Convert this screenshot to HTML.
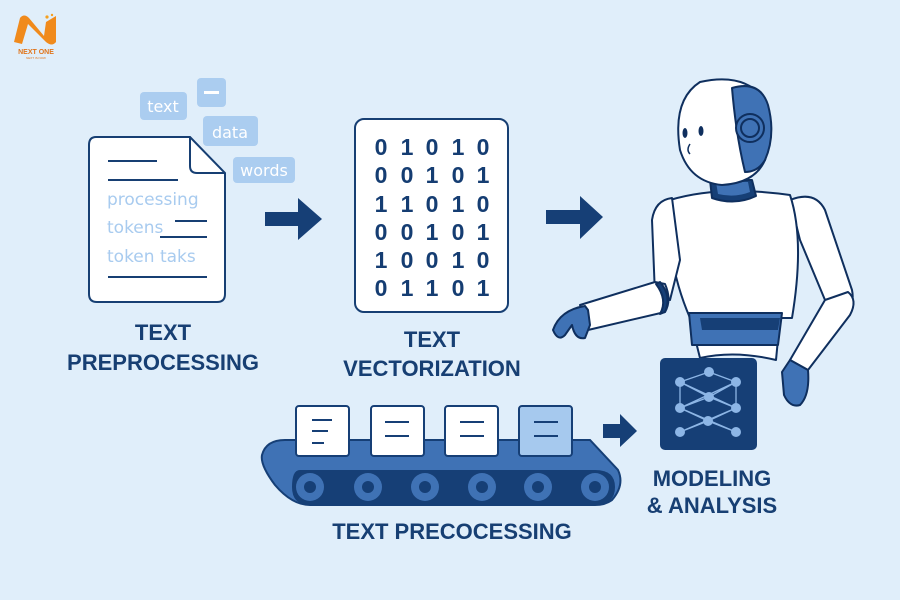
<!DOCTYPE html>
<html><head><meta charset="utf-8"><style>
html,body{margin:0;padding:0;width:900px;height:600px;overflow:hidden;background:#e0eefa}
svg{display:block}
.lbl{font-family:"Liberation Sans",sans-serif;font-weight:bold;fill:#173f73;text-anchor:middle}
.dg{font-family:"Liberation Sans",sans-serif;fill:#153d72;font-size:23px;font-weight:bold;text-anchor:middle}
.lt{font-family:"DejaVu Sans","Liberation Sans",sans-serif;fill:#a8cbef}
</style></head><body>
<svg width="900" height="600" viewBox="0 0 900 600">
<rect width="900" height="600" fill="#e0eefa"/>
<!-- logo -->
<path d="M14 42 L20 18 Q24 13 29 18 L44 36 L46 22 L56 16 L56 42 Q52 47 46 42 L28 24 L22 44 Z" fill="#f08a1c"/>
<circle cx="47" cy="17" r="1.6" fill="#f5a020"/><circle cx="52" cy="15" r="1.2" fill="#f5a020"/>
<text x="36" y="54" font-family="Liberation Sans,sans-serif" font-size="7" font-weight="bold" fill="#e0741a" text-anchor="middle">NEXT ONE</text>
<text x="36" y="59" font-family="Liberation Sans,sans-serif" font-size="3" fill="#e0741a" text-anchor="middle">NEXT IS NOW</text>
<!-- tags -->
<rect x="140" y="92" width="47" height="28" rx="4" fill="#abcdf0"/>
<text x="163" y="112" font-family="DejaVu Sans,sans-serif" font-size="16" fill="#fff" text-anchor="middle">text</text>
<rect x="197" y="78" width="29" height="29" rx="4" fill="#abcdf0"/>
<rect x="204" y="91" width="15" height="3" fill="#fff"/>
<rect x="203" y="116" width="55" height="30" rx="4" fill="#abcdf0"/>
<text x="230" y="138" font-family="DejaVu Sans,sans-serif" font-size="16" fill="#fff" text-anchor="middle">data</text>
<rect x="233" y="157" width="62" height="26" rx="4" fill="#abcdf0"/>
<text x="264" y="176" font-family="DejaVu Sans,sans-serif" font-size="16" fill="#fff" text-anchor="middle">words</text>
<!-- document -->
<path d="M96 137 L190 137 L225 173 L225 294 Q225 302 217 302 L97 302 Q89 302 89 294 L89 145 Q89 137 96 137 Z" fill="#fff" stroke="#173f73" stroke-width="2"/>
<path d="M190 137 L190 166 Q190 173 197 173 L225 173" fill="none" stroke="#173f73" stroke-width="2"/>
<g stroke="#173f73" stroke-width="2">
<line x1="108" y1="161" x2="157" y2="161"/><line x1="108" y1="180" x2="178" y2="180"/>
<line x1="175" y1="221" x2="207" y2="221"/><line x1="160" y1="237" x2="207" y2="237"/>
<line x1="108" y1="277" x2="207" y2="277"/></g>
<text x="107" y="205" class="lt" font-size="17">processing</text>
<text x="107" y="233" class="lt" font-size="17">tokens</text>
<text x="107" y="262" class="lt" font-size="17">token  taks</text>
<!-- arrow1 -->
<path d="M265 212 L298 212 L298 198 L322 219 L298 240 L298 226 L265 226 Z" fill="#163f76"/>
<text x="163" y="340" class="lbl" font-size="22">TEXT</text>
<text x="163" y="370" class="lbl" font-size="22">PREPROCESSING</text>
<!-- matrix -->
<rect x="355" y="119" width="153" height="193" rx="9" fill="#fff" stroke="#173f73" stroke-width="2"/>
<g class="dg">
<text x="381" y="155">0</text><text x="407" y="155">1</text><text x="432" y="155">0</text><text x="458" y="155">1</text><text x="483" y="155">0</text>
<text x="381" y="183">0</text><text x="407" y="183">0</text><text x="432" y="183">1</text><text x="458" y="183">0</text><text x="483" y="183">1</text>
<text x="381" y="212">1</text><text x="407" y="212">1</text><text x="432" y="212">0</text><text x="458" y="212">1</text><text x="483" y="212">0</text>
<text x="381" y="240">0</text><text x="407" y="240">0</text><text x="432" y="240">1</text><text x="458" y="240">0</text><text x="483" y="240">1</text>
<text x="381" y="268">1</text><text x="407" y="268">0</text><text x="432" y="268">0</text><text x="458" y="268">1</text><text x="483" y="268">0</text>
<text x="381" y="296">0</text><text x="407" y="296">1</text><text x="432" y="296">1</text><text x="458" y="296">0</text><text x="483" y="296">1</text>
</g>
<text x="432" y="347" class="lbl" font-size="22">TEXT</text>
<text x="432" y="376" class="lbl" font-size="22">VECTORIZATION</text>
<!-- arrow2 -->
<path d="M546 210 L580 210 L580 196 L603 217 L580 239 L580 224 L546 224 Z" fill="#163f76"/>
<!-- robot -->
<g stroke="#0f2f5e" stroke-width="2" stroke-linejoin="round">
<path d="M790 200 Q815 190 825 210 L852 290 Q855 305 845 310 L825 300 L800 240 Z" fill="#fff"/>
<path d="M825 300 L848 292 Q858 300 850 315 L808 370 L790 360 Z" fill="#fff"/>
<path d="M790 360 L808 370 Q810 395 800 405 Q790 408 784 395 L782 372 Z" fill="#3f72b5"/>
<path d="M670 200 Q720 185 790 195 Q805 240 792 318 L690 318 Q665 260 670 200 Z" fill="#fff"/>
<path d="M690 318 L780 318 L776 360 Q735 350 700 358 Z" fill="#fff"/>
<path d="M689 313 L782 313 L778 345 L692 345 Z" fill="#3f72b5"/>
<path d="M700 318 L780 318 L778 330 L702 330 Z" fill="#163f76" stroke="none"/>
<path d="M672 198 Q655 200 652 220 L655 295 L670 300 L680 260 Z" fill="#fff"/>
<path d="M655 282 L580 305 L588 330 L665 312 Q672 300 665 284 Z" fill="#fff"/>
<path d="M660 282 Q672 296 665 312 L660 314 Q668 300 656 284 Z" fill="#163f76"/>
<path d="M585 306 Q560 310 553 330 Q558 342 565 335 L572 325 Q575 340 585 338 L590 325 L588 310 Z" fill="#3f72b5"/>
<path d="M710 180 L752 180 L756 196 Q735 206 712 198 Z" fill="#163f76"/>
<path d="M716 182 L748 182 L750 192 Q735 198 718 194 Z" fill="#3f72b5" stroke="none"/>
<path d="M700 82 Q745 72 765 100 Q775 130 765 160 Q755 183 722 185 Q690 182 680 150 Q672 100 700 82 Z" fill="#fff"/>
<path d="M732 88 Q760 80 768 105 Q776 135 765 160 Q758 172 745 172 Q736 135 732 88 Z" fill="#3f72b5"/>
<circle cx="750" cy="128" r="14" fill="#3f72b5"/><circle cx="750" cy="128" r="9" fill="none"/>
</g>
<ellipse cx="685" cy="133" rx="2.5" ry="5" fill="#0f2f5e"/><ellipse cx="701" cy="131" rx="2.5" ry="5" fill="#0f2f5e"/>
<path d="M690 144 Q686 150 690 154" fill="none" stroke="#0f2f5e" stroke-width="1.5"/>
<!-- network box -->
<rect x="660" y="358" width="97" height="92" rx="5" fill="#163f76"/>
<g stroke="#8db6e6" stroke-width="1.3">
<path d="M709 372 L680 382 M709 372 L736 382 M680 382 L709 397 M736 382 L709 397 M680 382 L736 408 M736 382 L680 408 M680 382 L680 408 M736 382 L736 408 M709 397 L680 408 M709 397 L736 408 M680 408 L708 421 M736 408 L708 421 M708 421 L680 432 M708 421 L736 432 M680 408 L736 432 M736 408 L680 432"/></g>
<g fill="#8db6e6"><circle cx="709" cy="372" r="5"/><circle cx="680" cy="382" r="5"/><circle cx="736" cy="382" r="5"/><circle cx="709" cy="397" r="5"/><circle cx="680" cy="408" r="5"/><circle cx="736" cy="408" r="5"/><circle cx="708" cy="421" r="5"/><circle cx="680" cy="432" r="5"/><circle cx="736" cy="432" r="5"/></g>
<text x="712" y="486" class="lbl" font-size="22">MODELING</text>
<text x="712" y="513" class="lbl" font-size="22">&amp; ANALYSIS</text>
<!-- arrow3 -->
<path d="M603 424 L620 424 L620 414 L637 431 L620 447 L620 438 L603 438 Z" fill="#163f76"/>
<!-- conveyor -->
<path d="M285 440 L590 440 L618 470 Q625 485 612 500 Q605 505 595 505 L310 505 Q292 505 275 485 Q260 465 262 455 Q266 440 285 440 Z" fill="#3f72b5" stroke="#163f76" stroke-width="2"/>
<path d="M300 470 L595 470 Q615 470 615 487 Q615 505 595 505 L310 505 Q292 505 292 487 Q292 470 300 470 Z" fill="#163f76"/>
<g fill="#3f72b5"><circle cx="310" cy="487" r="14"/><circle cx="368" cy="487" r="14"/><circle cx="425" cy="487" r="14"/><circle cx="482" cy="487" r="14"/><circle cx="538" cy="487" r="14"/><circle cx="595" cy="487" r="14"/></g>
<g fill="#163f76"><circle cx="310" cy="487" r="6"/><circle cx="368" cy="487" r="6"/><circle cx="425" cy="487" r="6"/><circle cx="482" cy="487" r="6"/><circle cx="538" cy="487" r="6"/><circle cx="595" cy="487" r="6"/></g>
<g stroke="#163f76" stroke-width="2">
<rect x="296" y="406" width="53" height="50" rx="3" fill="#fff"/>
<rect x="371" y="406" width="53" height="50" rx="3" fill="#fff"/>
<rect x="445" y="406" width="53" height="50" rx="3" fill="#fff"/>
<rect x="519" y="406" width="53" height="50" rx="3" fill="#a6c9ee"/>
<path d="M312 420 L332 420 M312 431 L328 431 M312 443 L324 443 M385 422 L409 422 M385 436 L409 436 M460 422 L484 422 M460 436 L484 436 M534 422 L558 422 M534 436 L558 436"/>
</g>
<text x="452" y="539" class="lbl" font-size="22">TEXT PRECOCESSING</text>
</svg>
</body></html>
